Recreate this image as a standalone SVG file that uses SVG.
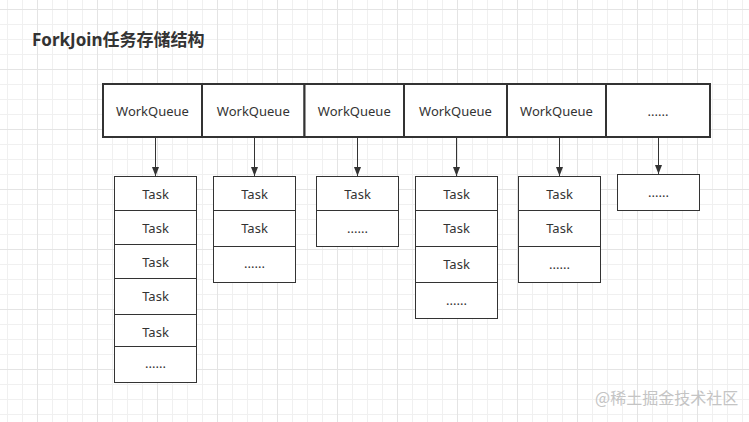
<svg xmlns="http://www.w3.org/2000/svg" width="749" height="422" viewBox="0 0 749 422">
<style>
.t{font-family:"Noto Sans","Noto Sans CJK SC",sans-serif;font-size:13px;fill:#333;text-anchor:middle}
.title{font-family:"Noto Sans","Noto Sans CJK SC",sans-serif;font-size:17px;font-weight:bold;fill:#333}
.q{fill:#fff;stroke:#333;stroke-width:2}
.b{fill:#fff;stroke:#333;stroke-width:1}
.c{stroke:#333;stroke-width:1;fill:none}
.wm{font-family:"Noto Sans CJK SC",sans-serif;font-size:16px;fill:#c4c4c4}
</style>
<defs>
<pattern id="minor" width="15" height="15" patternUnits="userSpaceOnUse" x="7" y="9">
<path d="M0 0.5H15M0.5 0V15" stroke="#f0f0f0" stroke-width="1" fill="none"/>
</pattern>
<pattern id="major" width="60" height="60" patternUnits="userSpaceOnUse" x="37" y="9">
<path d="M0 0.5H60M0.5 0V60" stroke="#e4e4e4" stroke-width="1" fill="none"/>
</pattern>
<marker id="arr" markerUnits="userSpaceOnUse" markerWidth="10" markerHeight="8" refX="9" refY="3.5" orient="auto">
<path d="M0,0 L9,3.5 L0,7 z" fill="#333"/>
</marker>
</defs>
<rect width="749" height="422" fill="#fff"/>
<rect width="749" height="422" fill="url(#minor)"/>
<rect width="749" height="422" fill="url(#major)"/>

<text class="title" x="32" y="46">ForkJoin任务存储结构</text>

<g id="queue1"><rect class="q" x="103" y="84" width="99" height="53"/><text class="t" x="152.5" y="116">WorkQueue</text></g>
<g id="queue2"><rect class="q" x="202" y="84" width="102.5" height="53"/><text class="t" x="253.3" y="116">WorkQueue</text></g>
<g id="queue3"><rect class="q" x="304.5" y="84" width="99.5" height="53"/><text class="t" x="354.3" y="116">WorkQueue</text></g>
<g id="queue4"><rect class="q" x="404" y="84" width="103" height="53"/><text class="t" x="455.5" y="116">WorkQueue</text></g>
<g id="queue5"><rect class="q" x="507" y="84" width="99" height="53"/><text class="t" x="556.5" y="116">WorkQueue</text></g>
<g id="queue6"><rect class="q" x="606" y="84" width="104" height="53"/><text class="t" x="658" y="116">......</text></g>

<g id="connectors">
<line class="c" x1="155.5" y1="138" x2="155.5" y2="176" marker-end="url(#arr)"/>
<line class="c" x1="254.5" y1="138" x2="254.5" y2="176" marker-end="url(#arr)"/>
<line class="c" x1="357.5" y1="138" x2="357.5" y2="176" marker-end="url(#arr)"/>
<line class="c" x1="456.5" y1="138" x2="456.5" y2="176" marker-end="url(#arr)"/>
<line class="c" x1="559.5" y1="138" x2="559.5" y2="176" marker-end="url(#arr)"/>
<line class="c" x1="658.5" y1="138" x2="658.5" y2="174" marker-end="url(#arr)"/>
</g>

<g id="stack1">
<rect class="b" x="114.5" y="176.5" width="82" height="34"/>
<rect class="b" x="114.5" y="210.5" width="82" height="34"/>
<rect class="b" x="114.5" y="244.5" width="82" height="34"/>
<rect class="b" x="114.5" y="278.5" width="82" height="36"/>
<rect class="b" x="114.5" y="314.5" width="82" height="32"/>
<rect class="b" x="114.5" y="346.5" width="82" height="36"/>
<text class="t" x="155.5" y="199">Task</text>
<text class="t" x="155.5" y="233">Task</text>
<text class="t" x="155.5" y="267">Task</text>
<text class="t" x="155.5" y="301">Task</text>
<text class="t" x="155.5" y="337">Task</text>
<text class="t" x="155.5" y="368">......</text>
</g>

<g id="stack2">
<rect class="b" x="213.5" y="176.5" width="82" height="34"/>
<rect class="b" x="213.5" y="210.5" width="82" height="36"/>
<rect class="b" x="213.5" y="246.5" width="82" height="36"/>
<text class="t" x="254.5" y="199">Task</text>
<text class="t" x="254.5" y="233">Task</text>
<text class="t" x="254.5" y="268">......</text>
</g>

<g id="stack3">
<rect class="b" x="316.5" y="176.5" width="82" height="34"/>
<rect class="b" x="316.5" y="210.5" width="82" height="36"/>
<text class="t" x="357.5" y="199">Task</text>
<text class="t" x="357.5" y="233">......</text>
</g>

<g id="stack4">
<rect class="b" x="415.5" y="176.5" width="82" height="34"/>
<rect class="b" x="415.5" y="210.5" width="82" height="36"/>
<rect class="b" x="415.5" y="246.5" width="82" height="36"/>
<rect class="b" x="415.5" y="282.5" width="82" height="36"/>
<text class="t" x="456.5" y="199">Task</text>
<text class="t" x="456.5" y="233">Task</text>
<text class="t" x="456.5" y="269">Task</text>
<text class="t" x="456.5" y="305">......</text>
</g>

<g id="stack5">
<rect class="b" x="518.5" y="176.5" width="82" height="34"/>
<rect class="b" x="518.5" y="210.5" width="82" height="36"/>
<rect class="b" x="518.5" y="246.5" width="82" height="36"/>
<text class="t" x="559.5" y="199">Task</text>
<text class="t" x="559.5" y="233">Task</text>
<text class="t" x="559.5" y="269">......</text>
</g>

<g id="stack6">
<rect class="b" x="617.5" y="174.5" width="82" height="36"/>
<text class="t" x="658.5" y="197">......</text>
</g>

<text class="wm" x="595" y="404">@稀土掘金技术社区</text>
</svg>
